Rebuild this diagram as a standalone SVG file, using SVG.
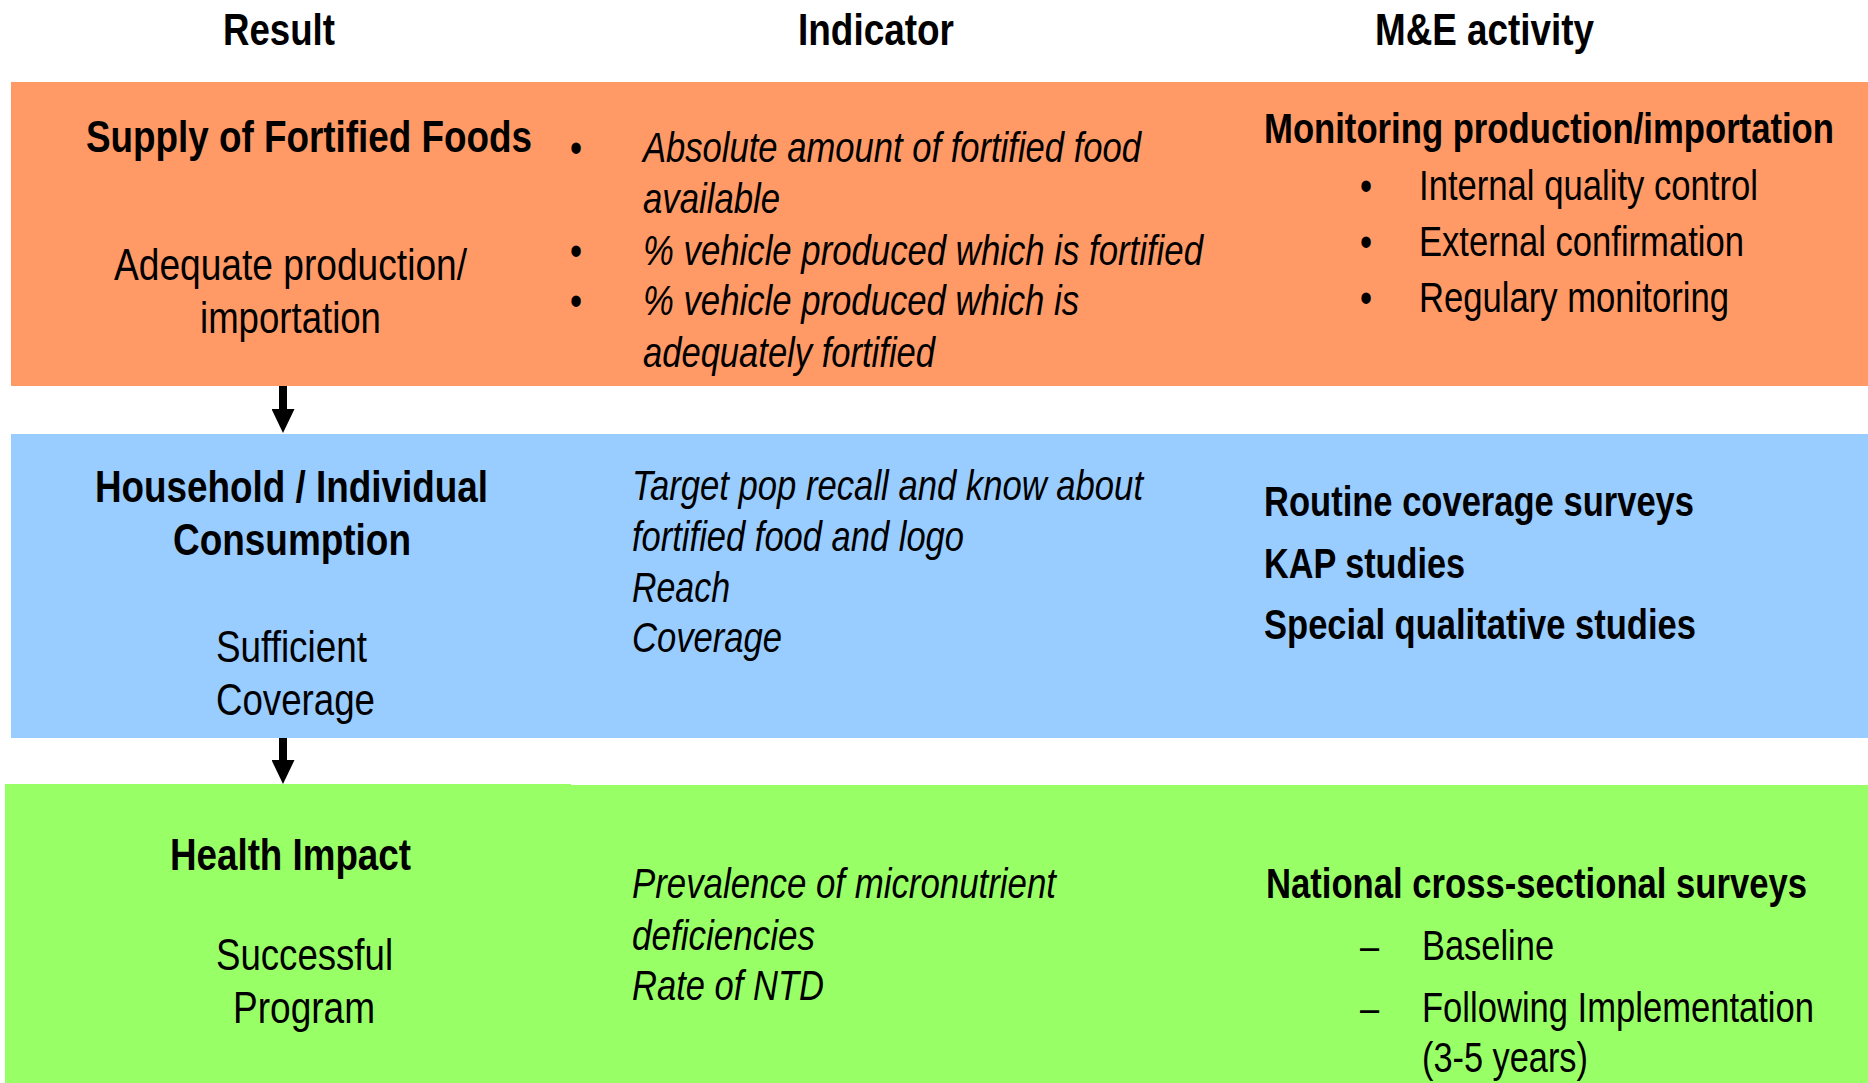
<svg xmlns="http://www.w3.org/2000/svg" width="1868" height="1083" viewBox="0 0 1868 1083">
<style>
text{font-family:"Liberation Sans",Arial,sans-serif;fill:#000}
.h{font-size:44px;font-weight:bold}
.rt{font-size:44px;font-weight:bold}
.rs{font-size:44px}
.b{font-size:42px;font-weight:bold}
.r{font-size:42px}
.i{font-size:42px;font-style:italic}
.bul{font-size:42px;text-anchor:middle}
</style>
<defs>
<marker id="ah" viewBox="0 0 24 23" refX="0" refY="11.5" markerWidth="24" markerHeight="23" markerUnits="userSpaceOnUse" orient="auto">
<path d="M0,0 L24,11.5 L0,23 Z" fill="#000"/>
</marker>
</defs>
<rect width="1868" height="1083" fill="#fff"/>

<g id="headers">
<text class="h" transform="translate(223 45) scale(0.82 1)" textLength="136.6" lengthAdjust="spacingAndGlyphs">Result</text>
<text class="h" transform="translate(798 45) scale(0.82 1)" textLength="190.2" lengthAdjust="spacingAndGlyphs">Indicator</text>
<text class="h" transform="translate(1375 45) scale(0.82 1)" textLength="267.1" lengthAdjust="spacingAndGlyphs">M&amp;E activity</text>
</g>

<g id="supply">
<rect x="11" y="82" width="1857" height="304" fill="#FF9966"/>
<text class="rt" transform="translate(86 152) scale(0.82 1)" textLength="543.9" lengthAdjust="spacingAndGlyphs">Supply of Fortified Foods</text>
<text class="rs" transform="translate(114 280) scale(0.82 1)" textLength="430.5" lengthAdjust="spacingAndGlyphs">Adequate production/</text>
<text class="rs" transform="translate(200 333) scale(0.82 1)" textLength="220.7" lengthAdjust="spacingAndGlyphs">importation</text>
<text class="bul" transform="translate(576 162) scale(0.82 1)">•</text>
<text class="bul" transform="translate(576 265) scale(0.82 1)">•</text>
<text class="bul" transform="translate(576 315) scale(0.82 1)">•</text>
<text class="i" transform="translate(643 162) scale(0.82 1)" textLength="607.3" lengthAdjust="spacingAndGlyphs">Absolute amount of fortified food</text>
<text class="i" transform="translate(643 213) scale(0.82 1)" textLength="167.1" lengthAdjust="spacingAndGlyphs">available</text>
<text class="i" transform="translate(643 265) scale(0.82 1)" textLength="682.9" lengthAdjust="spacingAndGlyphs">% vehicle produced which is fortified</text>
<text class="i" transform="translate(643 315) scale(0.82 1)" textLength="531.7" lengthAdjust="spacingAndGlyphs">% vehicle produced which is</text>
<text class="i" transform="translate(643 367) scale(0.82 1)" textLength="356.1" lengthAdjust="spacingAndGlyphs">adequately fortified</text>
<text class="b" transform="translate(1264 143) scale(0.82 1)" textLength="695.1" lengthAdjust="spacingAndGlyphs">Monitoring production/importation</text>
<text class="bul" transform="translate(1366 200) scale(0.82 1)">•</text>
<text class="bul" transform="translate(1366 256) scale(0.82 1)">•</text>
<text class="bul" transform="translate(1366 312) scale(0.82 1)">•</text>
<text class="r" transform="translate(1419 200) scale(0.82 1)" textLength="413.4" lengthAdjust="spacingAndGlyphs">Internal quality control</text>
<text class="r" transform="translate(1419 256) scale(0.82 1)" textLength="396.3" lengthAdjust="spacingAndGlyphs">External confirmation</text>
<text class="r" transform="translate(1419 312) scale(0.82 1)" textLength="378" lengthAdjust="spacingAndGlyphs">Regulary monitoring</text>
</g>

<g id="consumption">
<rect x="11" y="434" width="1857" height="304" fill="#99CCFF"/>
<text class="rt" transform="translate(95 502) scale(0.82 1)" textLength="479.3" lengthAdjust="spacingAndGlyphs">Household / Individual</text>
<text class="rt" transform="translate(173 555) scale(0.82 1)" textLength="290.2" lengthAdjust="spacingAndGlyphs">Consumption</text>
<text class="rs" transform="translate(216 662) scale(0.82 1)" textLength="184.1" lengthAdjust="spacingAndGlyphs">Sufficient</text>
<text class="rs" transform="translate(216 715) scale(0.82 1)" textLength="193.9" lengthAdjust="spacingAndGlyphs">Coverage</text>
<text class="i" transform="translate(632 500) scale(0.82 1)" textLength="623.2" lengthAdjust="spacingAndGlyphs">Target pop recall and know about</text>
<text class="i" transform="translate(632 551) scale(0.82 1)" textLength="404.9" lengthAdjust="spacingAndGlyphs">fortified food and logo</text>
<text class="i" transform="translate(632 602) scale(0.82 1)" textLength="119.5" lengthAdjust="spacingAndGlyphs">Reach</text>
<text class="i" transform="translate(632 652) scale(0.82 1)" textLength="182.9" lengthAdjust="spacingAndGlyphs">Coverage</text>
<text class="b" transform="translate(1264 516) scale(0.82 1)" textLength="524.4" lengthAdjust="spacingAndGlyphs">Routine coverage surveys</text>
<text class="b" transform="translate(1264 578) scale(0.82 1)" textLength="245.1" lengthAdjust="spacingAndGlyphs">KAP studies</text>
<text class="b" transform="translate(1264 639) scale(0.82 1)" textLength="526.8" lengthAdjust="spacingAndGlyphs">Special qualitative studies</text>
</g>

<g id="impact">
<rect x="5" y="784" width="566" height="299" fill="#99FF66"/>
<rect x="570" y="785" width="1298" height="298" fill="#99FF66"/>
<text class="rt" transform="translate(170 870) scale(0.82 1)" textLength="293.9" lengthAdjust="spacingAndGlyphs">Health Impact</text>
<text class="rs" transform="translate(216 970) scale(0.82 1)" textLength="215.9" lengthAdjust="spacingAndGlyphs">Successful</text>
<text class="rs" transform="translate(233 1023) scale(0.82 1)" textLength="173.2" lengthAdjust="spacingAndGlyphs">Program</text>
<text class="i" transform="translate(632 898) scale(0.82 1)" textLength="517.1" lengthAdjust="spacingAndGlyphs">Prevalence of micronutrient</text>
<text class="i" transform="translate(632 950) scale(0.82 1)" textLength="223.2" lengthAdjust="spacingAndGlyphs">deficiencies</text>
<text class="i" transform="translate(632 1000) scale(0.82 1)" textLength="234.1" lengthAdjust="spacingAndGlyphs">Rate of NTD</text>
<text class="b" transform="translate(1266 898) scale(0.82 1)" textLength="659.8" lengthAdjust="spacingAndGlyphs">National cross-sectional surveys</text>
<text class="r" transform="translate(1360 960) scale(0.82 1)">–</text>
<text class="r" transform="translate(1360 1022) scale(0.82 1)">–</text>
<text class="r" transform="translate(1422 960) scale(0.82 1)" textLength="161" lengthAdjust="spacingAndGlyphs">Baseline</text>
<text class="r" transform="translate(1422 1022) scale(0.82 1)" textLength="478" lengthAdjust="spacingAndGlyphs">Following Implementation</text>
<text class="r" transform="translate(1422 1072) scale(0.82 1)" textLength="202.4" lengthAdjust="spacingAndGlyphs">(3-5 years)</text>
</g>

<g id="connectors">
<line x1="283" y1="386" x2="283" y2="409" stroke="#000" stroke-width="8" marker-end="url(#ah)"/>
<line x1="283" y1="738" x2="283" y2="760" stroke="#000" stroke-width="8" marker-end="url(#ah)"/>
</g>
</svg>
